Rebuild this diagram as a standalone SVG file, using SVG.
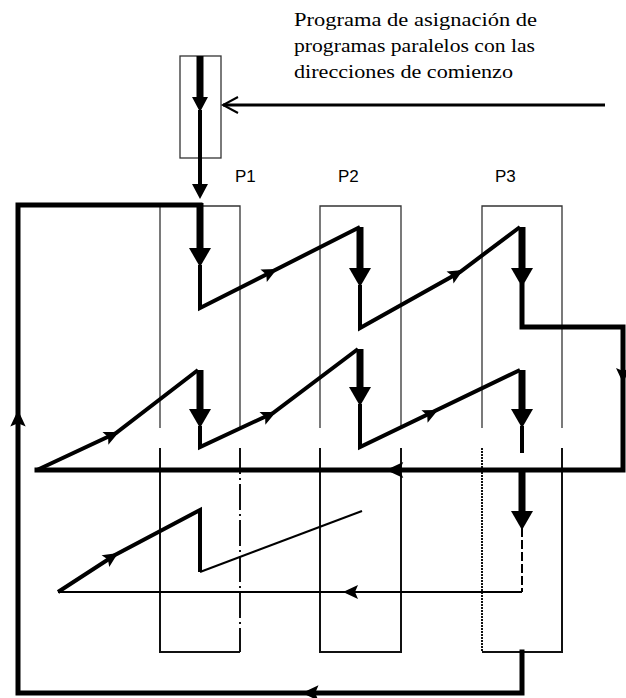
<svg xmlns="http://www.w3.org/2000/svg" xmlns:xlink="http://www.w3.org/1999/xlink" width="626" height="698" viewBox="0 0 626 698">
<style>
.box{fill:none;stroke:#333;stroke-width:1.3}
.low{fill:none;stroke:#111;stroke-width:2}
.thk{fill:none;stroke:#000;stroke-width:5;stroke-linejoin:miter;stroke-linecap:square}
.med{fill:none;stroke:#000;stroke-width:4;stroke-linejoin:miter}
.shaft{fill:none;stroke:#000;stroke-width:7}
.thin{fill:none;stroke:#000;stroke-width:2}
.head{fill:#000}
.p{font-family:'Liberation Sans',Arial,sans-serif;font-size:17px;fill:#000}
</style>
<defs>
<path id="hb" d="M-11,-19 L11,-19 L0,0 Z"/>
<path id="hm" d="M-8,-15 L8,-15 L0,0 Z"/>
<path id="hs" d="M0,0 L-15,-7 L-12,0 L-15,7 Z"/>
</defs>

<g id="caption" font-family="Liberation Serif, Times New Roman, serif" font-size="18" fill="#000">
<text x="294" y="26" textLength="243" lengthAdjust="spacingAndGlyphs">Programa de asignación de</text>
<text x="294" y="52" textLength="241" lengthAdjust="spacingAndGlyphs">programas paralelos con las</text>
<text x="294" y="78" textLength="219" lengthAdjust="spacingAndGlyphs">direcciones de comienzo</text>
</g>

<g id="dispatcher">
<rect class="box" x="180" y="56" width="41" height="102"/>
</g>

<g id="P1">
<path class="box" d="M160,428 V206 H240 V428"/>
<path class="low" d="M160,448 V652 H240"/>
<path class="low" d="M240,448 V652" stroke-dasharray="26,4,2,4"/>
<text class="p" x="235" y="182">P1</text>
</g>
<g id="P2">
<path class="box" d="M320,428 V206 H401 V428"/>
<path class="low" d="M320,448 V652 H401 V448"/>
<text class="p" x="338" y="182">P2</text>
</g>
<g id="P3">
<path class="box" d="M482,428 V206 H562 V428"/>
<path class="low" d="M482,448 V652" stroke-dasharray="2,1"/>
<path class="low" d="M482,652 H562 V448"/>
<text class="p" x="495" y="182">P3</text>
</g>

<g id="connectors">
<line x1="605" y1="105" x2="223" y2="105" stroke="#000" stroke-width="3"/>
<polyline points="238,97 223,105 238,113" fill="none" stroke="#000" stroke-width="2"/>
<line class="shaft" x1="200" y1="56" x2="200" y2="100"/>
<use href="#hm" class="head" transform="translate(200,112)"/>
<line class="med" x1="200" y1="110" x2="200" y2="186"/>
<use href="#hm" class="head" transform="translate(200,199)"/>

<path class="thk" d="M522,652 V693 H18 V205 H200"/>
<use href="#hs" class="head" transform="translate(18,410) rotate(-90) scale(1.1)"/>
<use href="#hs" class="head" transform="translate(302,693) rotate(180) scale(1.1)"/>

<line class="shaft" x1="200" y1="203" x2="200" y2="250"/>
<use href="#hb" class="head" transform="translate(200,267)"/>
<polyline class="med" points="200,265 200,308 360,227"/>
<use href="#hs" class="head" transform="translate(277,269) rotate(-27)"/>
<line class="shaft" x1="360" y1="227" x2="360" y2="270"/>
<use href="#hb" class="head" transform="translate(360,287)"/>
<polyline class="med" points="360,285 360,328 460,272 520,227"/>
<use href="#hs" class="head" transform="translate(463,270) rotate(-30)"/>
<line class="shaft" x1="522" y1="227" x2="522" y2="270"/>
<use href="#hb" class="head" transform="translate(522,287)"/>
<path class="thk" d="M522,285 V327 H623 V470 H37"/>
<use href="#hs" class="head" transform="translate(623,383) rotate(90)"/>
<use href="#hs" class="head" transform="translate(386,470) rotate(180) scale(1.15)"/>

<polyline class="med" points="37,470 116,433 198,370"/>
<use href="#hs" class="head" transform="translate(119,432) rotate(-25)"/>
<line class="shaft" x1="200" y1="370" x2="200" y2="411"/>
<use href="#hb" class="head" transform="translate(200,428)"/>
<polyline class="med" points="200,426 200,447 273,413 358,349"/>
<use href="#hs" class="head" transform="translate(276,412) rotate(-25)"/>
<line class="shaft" x1="360" y1="349" x2="360" y2="390"/>
<use href="#hb" class="head" transform="translate(360,406)"/>
<polyline class="med" points="360,404 360,447 520,370"/>
<use href="#hs" class="head" transform="translate(438,410) rotate(-26)"/>
<line class="shaft" x1="522" y1="370" x2="522" y2="411"/>
<use href="#hb" class="head" transform="translate(522,428)"/>
<line class="med" x1="522" y1="426" x2="522" y2="453"/>

<line class="shaft" x1="522" y1="470" x2="522" y2="514"/>
<use href="#hb" class="head" transform="translate(522,530)"/>
<line class="thin" x1="522" y1="528" x2="522" y2="592" stroke-dasharray="9,3"/>
<polyline class="thin" points="522,592 58,592"/>
<use href="#hs" class="head" transform="translate(343,592) rotate(180)"/>
<polyline class="med" points="58,592 115,555 200,510 200,572"/>
<use href="#hs" class="head" transform="translate(118,553) rotate(-33)"/>
<line class="thin" x1="200" y1="572" x2="362" y2="511"/>
</g>
</svg>
